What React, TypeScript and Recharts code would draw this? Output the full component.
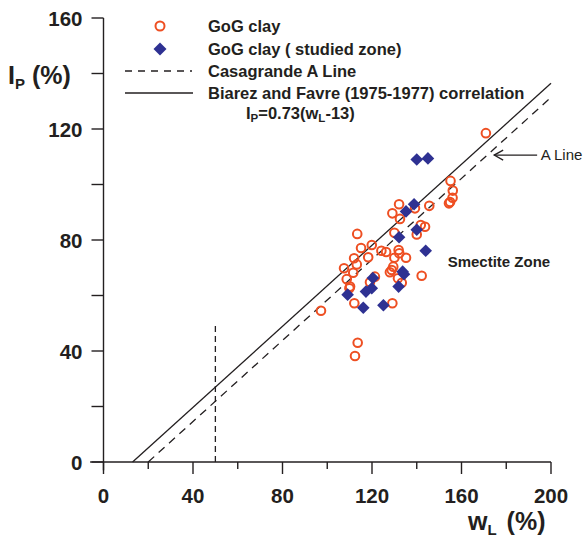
import React from 'react';
import {
  ScatterChart,
  Scatter,
  XAxis,
  YAxis,
  ReferenceLine,
  ReferenceDot,
  Legend,
} from 'recharts';

// GoG clay samples (wL %, Ip %)
const gogClay = [
  { wl: 170.9, ip: 118.5 }, { wl: 155.1, ip: 101.3 }, { wl: 156.1, ip: 97.8 },
  { wl: 156.0, ip: 95.2 }, { wl: 154.9, ip: 93.7 }, { wl: 154.4, ip: 93.2 },
  { wl: 132.1, ip: 92.9 }, { wl: 129.1, ip: 89.6 }, { wl: 132.5, ip: 87.6 },
  { wl: 139.2, ip: 91.4 }, { wl: 145.6, ip: 92.3 }, { wl: 141.8, ip: 85.4 },
  { wl: 143.7, ip: 84.8 }, { wl: 140.0, ip: 82.0 }, { wl: 130.0, ip: 82.6 },
  { wl: 113.4, ip: 82.2 }, { wl: 119.9, ip: 78.2 }, { wl: 115.1, ip: 77.1 },
  { wl: 124.2, ip: 76.1 }, { wl: 126.3, ip: 75.7 }, { wl: 131.9, ip: 76.4 },
  { wl: 132.2, ip: 75.2 }, { wl: 112.0, ip: 73.4 }, { wl: 118.3, ip: 73.8 },
  { wl: 130.0, ip: 73.6 }, { wl: 135.2, ip: 73.6 }, { wl: 107.5, ip: 69.8 },
  { wl: 113.2, ip: 71.2 }, { wl: 111.6, ip: 68.2 }, { wl: 129.5, ip: 70.4 },
  { wl: 128.8, ip: 69.2 }, { wl: 128.0, ip: 68.4 }, { wl: 121.3, ip: 66.8 },
  { wl: 131.6, ip: 66.2 }, { wl: 142.2, ip: 67.1 }, { wl: 108.7, ip: 65.9 },
  { wl: 110.2, ip: 63.2 }, { wl: 109.9, ip: 62.6 }, { wl: 119.1, ip: 64.8 },
  { wl: 133.3, ip: 64.6 }, { wl: 112.1, ip: 57.2 }, { wl: 129.1, ip: 57.2 },
  { wl: 97.2, ip: 54.5 }, { wl: 113.6, ip: 43.0 }, { wl: 112.4, ip: 38.2 },
];

// GoG clay, studied zone
const studiedZone = [
  { wl: 140.0, ip: 109.0 }, { wl: 145.0, ip: 109.4 }, { wl: 138.8, ip: 92.9 },
  { wl: 135.2, ip: 90.3 }, { wl: 140.0, ip: 83.7 }, { wl: 132.1, ip: 81.0 },
  { wl: 144.0, ip: 76.1 }, { wl: 133.7, ip: 68.6 }, { wl: 134.3, ip: 67.7 },
  { wl: 120.4, ip: 66.3 }, { wl: 119.9, ip: 62.6 }, { wl: 117.3, ip: 61.4 },
  { wl: 131.9, ip: 63.2 }, { wl: 109.1, ip: 60.3 }, { wl: 116.1, ip: 55.6 },
  { wl: 125.1, ip: 56.5 },
];

// line end points
const casagrandeALine = [{ wl: 20, ip: 0 }, { wl: 200, ip: 131.4 }];
const biarezFavreLine = [{ wl: 13, ip: 0 }, { wl: 200, ip: 136.5 }];
const wl50Line = [{ wl: 50, ip: 0 }, { wl: 50, ip: 50 }];
const aLineArrow = [{ wl: 174.6, ip: 110.6 }, { wl: 193.8, ip: 110.6 }];

const xTicks = [0, 20, 40, 60, 80, 100, 120, 140, 160, 180, 200];
const yTicks = [0, 20, 40, 60, 80, 100, 120, 140, 160];
const labelStep = 40;

const FONT = '"Liberation Sans", Arial, Helvetica, sans-serif';
const INK = '#231f20';
const ORANGE = '#ee4f22';
const NAVY = '#2e3192';

const OpenCircle = (props: any) => {
  const { cx, cy } = props;
  if (cx == null || cy == null) return null;
  return <circle cx={cx} cy={cy} r={4.3} fill="#fff" fillOpacity={0} stroke={ORANGE} strokeWidth={2} />;
};

const Diamond = (props: any) => {
  const { cx, cy } = props;
  if (cx == null || cy == null) return null;
  const h = 6.3;
  return (
    <polygon
      points={`${cx},${cy - h} ${cx + h},${cy} ${cx},${cy + h} ${cx - h},${cy}`}
      fill={NAVY}
    />
  );
};

const XTick = (props: any) => {
  const { x, y, payload } = props;
  const major = payload.value % labelStep === 0;
  return (
    <g>
      <line x1={x} y1={y} x2={x} y2={y + (major ? 12 : 7)} stroke={INK} strokeWidth={1.4} />
      {major && (
        <text x={x} y={y + 41} textAnchor="middle" fontFamily={FONT} fontWeight="bold" fontSize={20.5} fill={INK}>
          {payload.value}
        </text>
      )}
    </g>
  );
};

const YTick = (props: any) => {
  const { x, y, payload } = props;
  const major = payload.value % labelStep === 0;
  return (
    <g>
      <line x1={x - 12} y1={y} x2={x} y2={y} stroke={INK} strokeWidth={1.4} />
      {major && (
        <text x={x - 21} y={y + 7.5} textAnchor="end" fontFamily={FONT} fontWeight="bold" fontSize={20.5} fill={INK}>
          {payload.value}
        </text>
      )}
    </g>
  );
};

const ArrowShape = (props: any) => {
  const { x1, y1, x2, y2 } = props;
  if (x1 == null) return null;
  const tipX = Math.min(x1, x2);
  return (
    <g stroke={INK} strokeWidth={1.3} fill="none">
      <line x1={x1} y1={y1} x2={x2} y2={y2} />
      <polyline points={`${tipX + 9},${y1 - 5} ${tipX},${y1} ${tipX + 9},${y1 + 5}`} />
    </g>
  );
};

const LegendBox = () => (
  <svg width={583} height={130} style={{ display: 'block' }}>
    <g fontFamily={FONT} fontWeight="bold" fontSize={16.5} fill={INK}>
      <circle cx={160} cy={26} r={4.5} fill="none" stroke={ORANGE} strokeWidth={2} />
      <text x={208} y={32}>GoG clay</text>
      <polygon points="160,42.5 166.5,49 160,55.5 153.5,49" fill={NAVY} />
      <text x={208} y={55.3}>GoG clay ( studied zone)</text>
      <line x1={125} y1={71} x2={192} y2={71} stroke={INK} strokeWidth={1.3} strokeDasharray="7 6" />
      <text x={208} y={77}>Casagrande A Line</text>
      <line x1={125} y1={93} x2={193} y2={93} stroke={INK} strokeWidth={1.3} />
      <text x={208} y={98.7}>Biarez and Favre (1975-1977) correlation</text>
      <text x={246} y={118.5}>
        I<tspan fontSize={11.5} dy={3}>P</tspan>
        <tspan dy={-3}>=0.73(w</tspan>
        <tspan fontSize={11.5} dy={3}>L</tspan>
        <tspan dy={-3}>-13)</tspan>
      </text>
    </g>
  </svg>
);

const XAxisTitle = (props: any) => {
  const { viewBox } = props;
  const right = viewBox.x + viewBox.width;
  return (
    <text x={right - 83} y={viewBox.y + 68} fontFamily={FONT} fontWeight="bold" fontSize={25} fill={INK}>
      w<tspan fontSize={15} dy={5}>L</tspan>
      <tspan dx={3} dy={-5}> (%)</tspan>
    </text>
  );
};

const YAxisTitle = () => (
  <text x={8} y={84} fontFamily={FONT} fontWeight="bold" fontSize={25} fill={INK}>
    I<tspan fontSize={15} dy={5}>P</tspan>
    <tspan dy={-5}> (%)</tspan>
  </text>
);

export default function App() {
  return (
    <div style={{ width: 583, height: 539, background: '#fff' }}>
      <style>{'body{margin:0}'}</style>
      <ScatterChart
        width={583}
        height={539}
        margin={{ top: 18, right: 32, bottom: 37, left: 43.5 }}
      >
        <XAxis
          type="number"
          dataKey="wl"
          domain={[0, 200]}
          ticks={xTicks}
          interval={0}
          tickSize={0}
          tickMargin={0}
          tickLine={false}
          tick={<XTick />}
          height={40}
          axisLine={{ stroke: INK, strokeWidth: 1.4 }}
          label={<XAxisTitle />}
        />
        <YAxis
          type="number"
          dataKey="ip"
          domain={[0, 160]}
          ticks={yTicks}
          interval={0}
          tickSize={0}
          tickMargin={0}
          tickLine={false}
          tick={<YTick />}
          width={60}
          axisLine={{ stroke: INK, strokeWidth: 1.4 }}
          label={<YAxisTitle />}
        />
        <Legend
          layout="vertical"
          align="center"
          verticalAlign="middle"
          wrapperStyle={{ left: 0, top: 0, width: 583, height: 130 }}
          content={<LegendBox />}
        />

        {/* axis overhang past the origin */}
        <ReferenceLine segment={[{ x: 0, y: 0 }, { x: 0, y: -3 }]} stroke={INK} strokeWidth={1.4} ifOverflow="visible" />
        <ReferenceLine segment={[{ x: 0, y: 0 }, { x: -6, y: 0 }]} stroke={INK} strokeWidth={1.4} ifOverflow="visible" />

        <ReferenceLine
          segment={wl50Line.map((p) => ({ x: p.wl, y: p.ip }))}
          stroke={INK}
          strokeWidth={1.3}
          strokeDasharray="6 4"
        />
        <ReferenceLine
          segment={casagrandeALine.map((p) => ({ x: p.wl, y: p.ip }))}
          stroke={INK}
          strokeWidth={1.3}
          strokeDasharray="8 6"
        />
        <ReferenceLine
          segment={biarezFavreLine.map((p) => ({ x: p.wl, y: p.ip }))}
          stroke={INK}
          strokeWidth={1.3}
        />
        <ReferenceLine
          segment={aLineArrow.map((p) => ({ x: p.wl, y: p.ip }))}
          shape={<ArrowShape />}
        />
        <ReferenceDot
          x={194.5}
          y={110.6}
          r={0}
          ifOverflow="visible"
          label={{ value: 'A Line', position: 'right', offset: 2, fontFamily: FONT, fontSize: 15, fill: INK }}
        />
        <ReferenceDot
          x={153.8}
          y={72.2}
          r={0}
          ifOverflow="visible"
          label={{ value: 'Smectite Zone', position: 'right', offset: 0, fontFamily: FONT, fontSize: 15, fontWeight: 'bold', fill: INK }}
        />

        <Scatter name="GoG clay" data={gogClay} shape={<OpenCircle />} isAnimationActive={false} />
        <Scatter name="GoG clay ( studied zone)" data={studiedZone} shape={<Diamond />} isAnimationActive={false} />
      </ScatterChart>
    </div>
  );
}
